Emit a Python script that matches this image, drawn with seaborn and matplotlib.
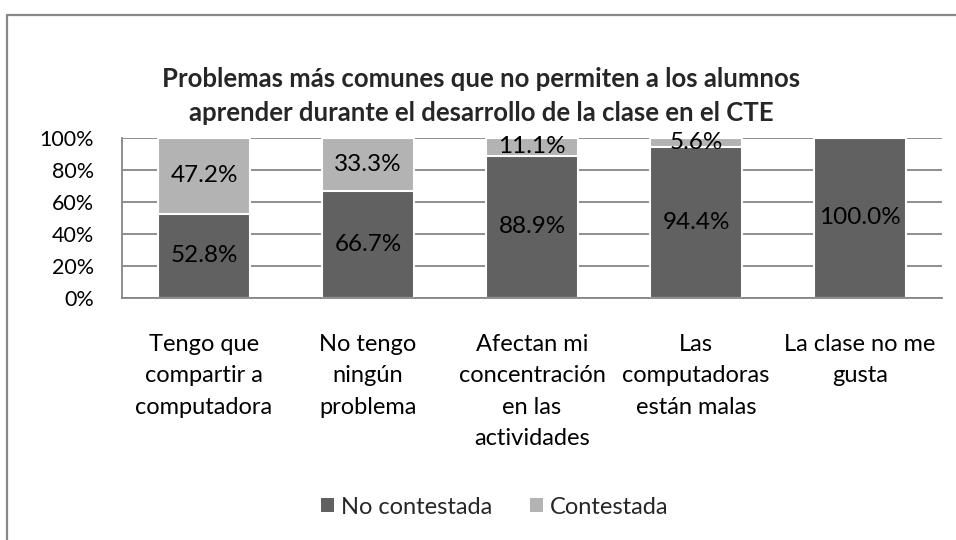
import matplotlib
matplotlib.use("Agg")
import matplotlib.pyplot as plt
import seaborn as sns
import pandas as pd
from matplotlib.lines import Line2D

categories = [
    "Tengo que\ncompartir a\ncomputadora",
    "No tengo\nningún\nproblema",
    "Afectan mi\nconcentración\nen las\nactividades",
    "Las\ncomputadoras\nestán malas",
    "La clase no me\ngusta",
]
no_contestada = [52.8, 66.7, 88.9, 94.4, 100.0]
contestada = [47.2, 33.3, 11.1, 5.6, 0.0]
yticks = [0, 20, 40, 60, 80, 100]
title = "Problemas más comunes que no permiten a los alumnos\naprender durante el desarrollo de la clase en el CTE"

DARK = "#616161"
LIGHT = "#b3b3b3"
GRID = "#868686"

sns.set_theme(style="white")
plt.rcParams["font.family"] = ["Lato", "DejaVu Sans"]

df = pd.DataFrame({
    "cat": categories,
    "no": no_contestada,
    "si": contestada,
})
df["total"] = df["no"] + df["si"]

fig = plt.figure(figsize=(9.56, 5.4), dpi=100)
ax = fig.add_axes([122 / 956, 1 - 298 / 540, 820 / 956, 160 / 540])

sns.barplot(data=df, x="cat", y="total", color=LIGHT, width=0.555,
            edgecolor="white", linewidth=1.5, saturation=1, ax=ax,
            label="Contestada")
sns.barplot(data=df, x="cat", y="no", color=DARK, width=0.555,
            edgecolor="white", linewidth=1.5, saturation=1, ax=ax,
            label="No contestada")

handles, labels = ax.get_legend_handles_labels()
if ax.get_legend() is not None:
    ax.get_legend().remove()

ax.set_xlim(-0.5, len(categories) - 0.5)
ax.set_ylim(0, 100)
ax.set_yticks(yticks)
ax.set_yticklabels([f"{v}%" for v in yticks])
ax.set_xlabel("")
ax.set_ylabel("")
ax.set_axisbelow(True)
ax.yaxis.grid(True, color=GRID, linewidth=1.3)
ax.xaxis.grid(False)
for s in ["top", "right"]:
    ax.spines[s].set_visible(False)
for s in ["left", "bottom"]:
    ax.spines[s].set_color(GRID)
    ax.spines[s].set_linewidth(1.3)

ax.tick_params(axis="y", length=0, pad=20, labelsize=15.5, labelcolor="black")
ax.tick_params(axis="x", length=0, pad=26, labelsize=17, labelcolor="black")
for lbl in ax.get_xticklabels():
    lbl.set_linespacing(1.6)
    lbl.set_va("top")

# data labels
for i, (n, c) in enumerate(zip(no_contestada, contestada)):
    ax.text(i, n / 2, f"{n:.1f}%", ha="center", va="center", fontsize=17.5, color="black")
    if c > 0:
        ax.text(i, n + c / 2, f"{c:.1f}%", ha="center", va="center", fontsize=17.5, color="black")

fig.text(481 / 956, 1 - 96 / 540, title, ha="center", va="center",
         fontsize=18.5, fontweight="bold", linespacing=1.5)

order = [labels.index("No contestada"), labels.index("Contestada")]
leg = fig.legend([handles[k] for k in order], [labels[k] for k in order],
                 loc="center", bbox_to_anchor=(495 / 956, 1 - 507 / 540),
                 ncol=2, frameon=False, fontsize=17, handlelength=0.55,
                 handleheight=0.55, handletextpad=0.3, columnspacing=1.6)
for h in leg.legend_handles:
    h.set_edgecolor("none")

# chart border (top and left visible)
fig.add_artist(Line2D([7 / 956, 7 / 956], [0, 1 - 15 / 540], color="#888888", lw=1.6))
fig.add_artist(Line2D([7 / 956, 1], [1 - 15 / 540, 1 - 15 / 540], color="#888888", lw=1.6))

fig.savefig("out.png", dpi=100)
